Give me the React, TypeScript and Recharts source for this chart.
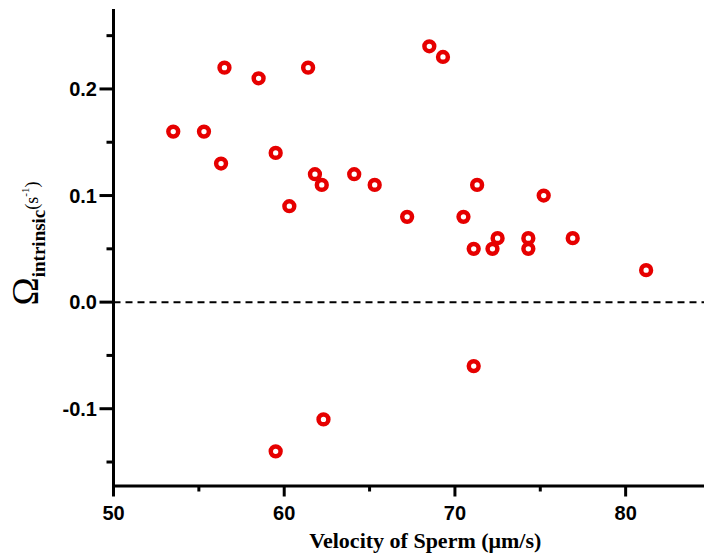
import { ScatterChart, Scatter, XAxis, YAxis, ReferenceLine } from 'recharts';

// velocity of sperm (um/s) and intrinsic rotation rate (1/s)
const velocity = [
  53.5, 55.3, 56.5, 58.5, 61.4, 56.3, 59.5, 60.3, 61.8, 62.2,
  64.1, 65.3, 67.2, 68.5, 69.3, 71.3, 70.5, 71.1, 72.2, 72.5,
  74.3, 74.3, 75.2, 76.9, 81.2, 71.1, 62.3, 59.5,
];
const omega = [
  0.16, 0.16, 0.22, 0.21, 0.22, 0.13, 0.14, 0.09, 0.12, 0.11,
  0.12, 0.11, 0.08, 0.24, 0.23, 0.11, 0.08, 0.05, 0.05, 0.06,
  0.06, 0.05, 0.1, 0.06, 0.03, -0.06, -0.11, -0.14,
];

const xTicks = [50, 55, 60, 65, 70, 75, 80, 85];
const xLabelTicks = [50, 60, 70, 80];
const yTicks = [-0.15, -0.1, -0.05, 0, 0.05, 0.1, 0.15, 0.2, 0.25];
const yLabelTicks = [-0.1, 0, 0.1, 0.2];

const points = velocity.map((v, i) => ({ v, w: omega[i] }));

const RED = '#e60000';
const tickFont = "'Liberation Sans', Arial, sans-serif";
const serif = "'Liberation Serif', 'Times New Roman', serif";

const isMajor = (list: number[], v: number) => list.some((t) => Math.abs(t - v) < 1e-9);

const XTick = ({ x, y, payload }: any) => {
  const major = isMajor(xLabelTicks, payload.value);
  return (
    <g>
      <line x1={x} x2={x} y1={y} y2={y + (major ? 10.5 : 5.5)} stroke="#000" strokeWidth={3} />
      {major && (
        <text x={x} y={y + 33.5} textAnchor="middle" fontFamily={tickFont} fontWeight="bold" fontSize={20} fill="#000">
          {payload.value}
        </text>
      )}
    </g>
  );
};

const YTick = ({ x, y, payload }: any) => {
  const major = isMajor(yLabelTicks, payload.value);
  return (
    <g>
      <line x1={x} x2={x - (major ? 14 : 7)} y1={y} y2={y} stroke="#000" strokeWidth={3} />
      {major && (
        <text x={x - 16.5} y={y + 7.2} textAnchor="end" fontFamily={tickFont} fontWeight="bold" fontSize={20} fill="#000">
          {payload.value.toFixed(1)}
        </text>
      )}
    </g>
  );
};

const XTitle = ({ viewBox }: any) => (
  <text
    x={viewBox.x + viewBox.width / 2 + 13}
    y={viewBox.y + 62}
    textAnchor="middle"
    fontFamily={serif}
    fontWeight="bold"
    fontSize={22}
    fill="#000"
  >
    Velocity of Sperm (μm/s)
  </text>
);

const YTitle = ({ viewBox }: any) => {
  const cx = viewBox.x + 38;
  const cy = viewBox.y + viewBox.height / 2 - 4;
  return (
    <text transform={`rotate(-90 ${cx} ${cy})`} x={cx} y={cy} textAnchor="middle" fontFamily={serif} fill="#000">
      <tspan fontSize={38}>Ω</tspan>
      <tspan fontSize={19} fontWeight="bold" dy={7}>intrinsic</tspan>
      <tspan fontSize={18} dy={-7}>(s</tspan>
      <tspan fontSize={11} dy={-9}>-1</tspan>
      <tspan fontSize={18} dy={9}>)</tspan>
    </text>
  );
};

const Ring = (props: any) => (
  <circle cx={props.cx} cy={props.cy} r={4.9} fill="#fff" stroke={RED} strokeWidth={4.5} />
);

export default function App() {
  return (
    <div style={{ position: 'absolute', left: 0, top: 0, background: '#fff' }}>
      <ScatterChart width={704} height={556} margin={{ top: 9, right: -7, bottom: 0, left: 0 }}>
        <XAxis
          type="number"
          dataKey="v"
          domain={[50, 85]}
          ticks={xTicks}
          interval={0}
          tickSize={0}
          tickMargin={0}
          tick={<XTick />}
          axisLine={{ stroke: '#000', strokeWidth: 3 }}
          height={70}
          label={{ content: <XTitle /> }}
        />
        <YAxis
          type="number"
          dataKey="w"
          domain={[-0.1725, 0.275]}
          ticks={yTicks}
          interval={0}
          tickSize={0}
          tickMargin={0}
          tick={<YTick />}
          axisLine={{ stroke: '#000', strokeWidth: 3 }}
          width={113.5}
          label={{ content: <YTitle /> }}
        />
        <ReferenceLine y={0} stroke="#000" strokeWidth={2} strokeDasharray="7 5" />
        <Scatter data={points} shape={<Ring />} isAnimationActive={false} />
      </ScatterChart>
    </div>
  );
}
